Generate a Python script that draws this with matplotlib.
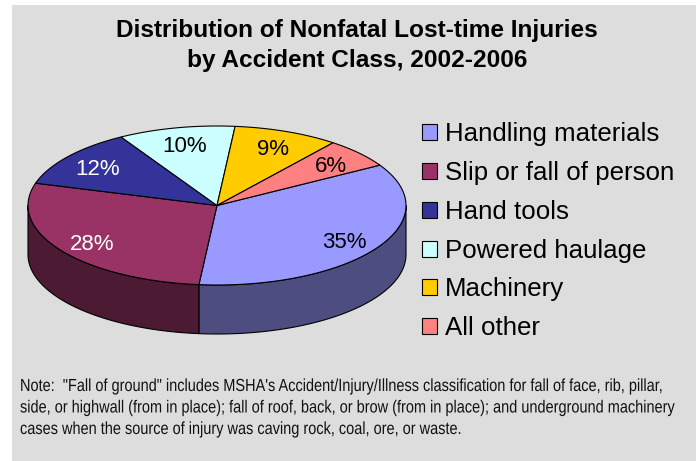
import matplotlib
matplotlib.use("Agg")
import matplotlib.pyplot as plt
from matplotlib.patches import Polygon, Rectangle, Patch, PathPatch
from matplotlib.textpath import TextPath
from matplotlib.font_manager import FontProperties
from matplotlib.transforms import Affine2D
import numpy as np

# data
labels = ["Handling materials", "Slip or fall of person", "Hand tools",
          "Powered haulage", "Machinery", "All other"]
shares = [35, 28, 12, 10, 9, 6]
colors = ["#9999FF", "#993366", "#333399", "#CCFFFF", "#FFCC00", "#FF8080"]
label_colors = ["black", "white", "white", "black", "black", "black"]

title_lines = ["Distribution of Nonfatal Lost-time Injuries",
               "by Accident Class, 2002-2006"]
note_lines = [
    "Note:  \"Fall of ground\" includes MSHA's Accident/Injury/Illness classification for fall of face, rib, pillar,",
    "side, or highwall (from in place); fall of roof, back, or brow (from in place); and underground machinery",
    "cases when the source of injury was caving rock, coal, ore, or waste.",
]

W, H = 696, 461
fig = plt.figure(figsize=(W / 100, H / 100), dpi=100, facecolor="white")
ax = fig.add_axes([0, 0, 1, 1])
ax.set_xlim(0, W)
ax.set_ylim(H, 0)
ax.axis("off")

ax.add_patch(Rectangle((12, 5), W - 12, H - 5, facecolor="#DDDDDD", edgecolor="none", zorder=0))

# pie geometry (pixels)
cx, cy, rx, ry, depth = 217, 205.5, 189, 79.5, 49
start = 30.5


def pt(t, dy=0):
    t = np.radians(t)
    return np.column_stack([cx + rx * np.cos(t), cy - ry * np.sin(t) + dy])


def darker(c, f=0.5):
    r, g, b = matplotlib.colors.to_rgb(c)
    return (r * f, g * f, b * f)


fr = np.array(shares) / sum(shares)
ends = start - 360 * np.cumsum(fr)
starts = np.concatenate([[start], ends[:-1]])

# sides (only the front half, angles 180..360)
for a1, a2, c in zip(starts, ends, colors):
    lo, hi = a2 % 360, a2 % 360 + (a1 - a2)
    for off in (0, 360):
        s, e = max(lo, 180 + off), min(hi, 360 + off)
        if e <= s:
            continue
        t = np.linspace(s, e, 80)
        poly = np.vstack([pt(t), pt(t[::-1], depth)])
        ax.add_patch(Polygon(poly, closed=True, facecolor=darker(c), edgecolor="black", lw=0.8, zorder=2))

# top
for a1, a2, c in zip(starts, ends, colors):
    t = np.linspace(a1, a2, 120)
    poly = np.vstack([[cx, cy], pt(t)])
    ax.add_patch(Polygon(poly, closed=True, facecolor=c, edgecolor="black", lw=0.8, zorder=3))

# percentage labels
for a1, a2, v, lc in zip(starts, ends, shares, label_colors):
    m = np.radians((a1 + a2) / 2)
    x = cx + 0.8 * rx * np.cos(m)
    y = cy - 0.8 * ry * np.sin(m) + 3
    ax.text(x, y, f"{v}%", ha="center", va="center", fontsize=16,
            family="Liberation Sans", color=lc, zorder=4)

for i, line in enumerate(title_lines):
    ax.text(357, 37 + 30 * i, line, ha="center", va="baseline", fontsize=17.6,
            fontweight="bold", family="Liberation Sans")

# condensed note text (Arial Narrow look) drawn as squeezed text paths
fp = FontProperties(family="Liberation Sans")
for i, line in enumerate(note_lines):
    tp = TextPath((0, 0), line, size=17.5, prop=fp)
    tr = Affine2D().scale(0.83, -1).translate(20, 391 + 21.5 * i)
    ax.add_patch(PathPatch(tr.transform_path(tp), facecolor="#111111", edgecolor="none", zorder=4))

handles = [Patch(facecolor=c, edgecolor="black", lw=0.8) for c in colors]
ax.legend(handles, labels, loc="upper left", bbox_to_anchor=(422 / W, 1 - 122.5 / H),
          bbox_transform=fig.transFigure, frameon=False, borderpad=0, borderaxespad=0,
          handlelength=0.58, handleheight=0.58, handletextpad=0.3, labelspacing=0.57,
          prop={"family": "Liberation Sans", "size": 18.6})

fig.savefig("out.png", dpi=100, facecolor="white")
